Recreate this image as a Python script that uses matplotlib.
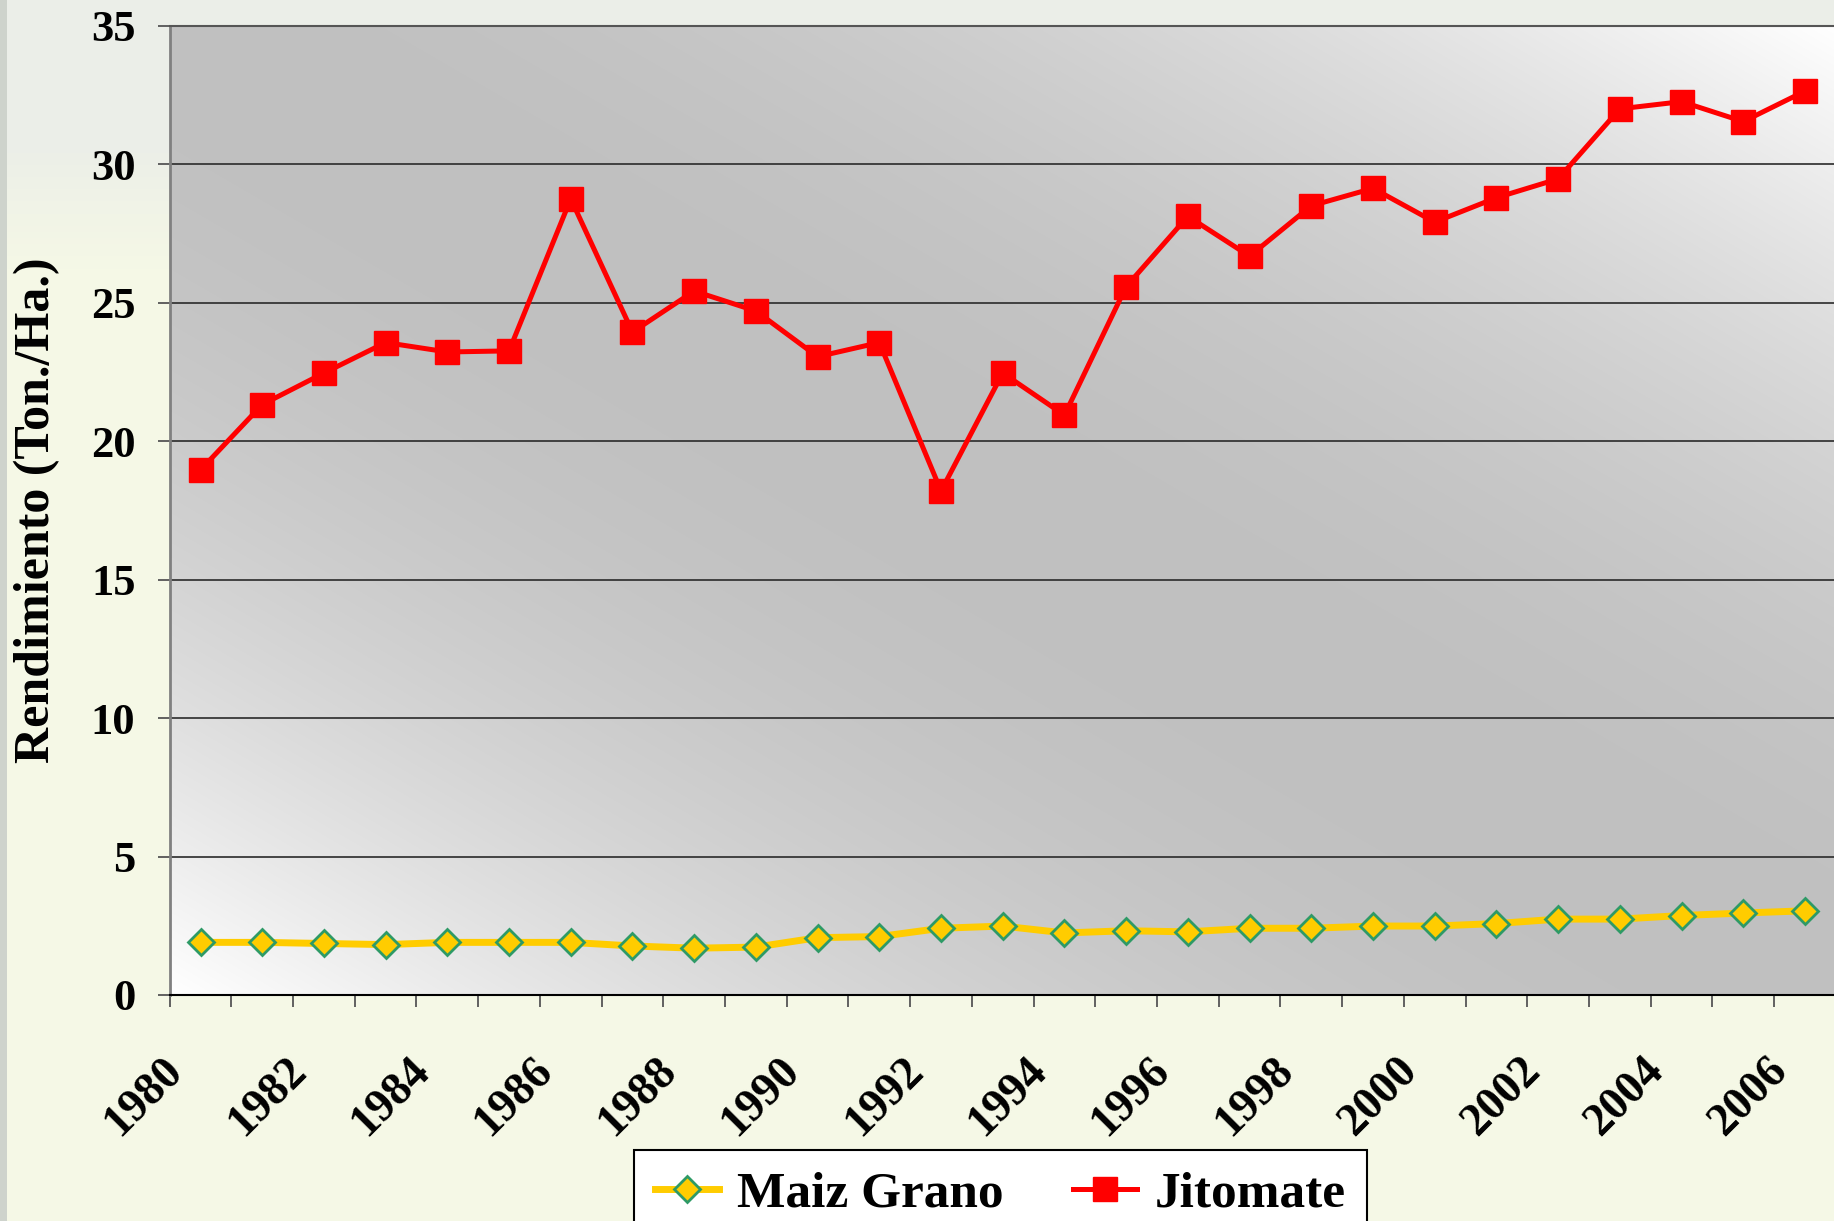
import numpy as np
import matplotlib
matplotlib.use("Agg")
import matplotlib.pyplot as plt
import matplotlib.transforms as mtrans

# Datos (Ton./Ha.)
years = list(range(1980, 2007))
maiz_grano = [1.90, 1.90, 1.86, 1.82, 1.90, 1.90, 1.90, 1.77, 1.69, 1.73,
              2.07, 2.11, 2.41, 2.49, 2.24, 2.32, 2.28, 2.41, 2.41, 2.49,
              2.49, 2.58, 2.74, 2.74, 2.87, 2.96, 3.04]
jitomate = [18.96, 21.32, 22.46, 23.56, 23.22, 23.26, 28.75, 23.94, 25.42, 24.70,
            23.05, 23.56, 18.20, 22.46, 20.94, 25.58, 28.12, 26.68, 28.50, 29.13,
            27.91, 28.79, 29.47, 32.00, 32.26, 31.54, 32.64]
y_ticks = [0, 5, 10, 15, 20, 25, 30, 35]

plt.rcParams["font.family"] = ["Liberation Serif", "DejaVu Serif"]
plt.rcParams["font.weight"] = "bold"

fig = plt.figure(figsize=(18.34, 12.21), dpi=100, facecolor="#f5f8e5")

# fondo tipo pergamino (simplificado): gris claro arriba, amarillo palido abajo
bg = fig.add_axes([0, 0, 1, 1], zorder=-5)
bg.axis("off")
yy = np.linspace(0, 1, 200)[:, None]
w = np.clip((yy - 0.12) / 0.1, 0, 1)
top_c = np.array([0.925, 0.937, 0.910])
low_c = np.array([0.962, 0.973, 0.902])
img = (1 - w)[..., None] * top_c + w[..., None] * low_c
img = np.repeat(img, 1834, axis=1)
img[:, :7] = [0.81, 0.83, 0.80]
bg.imshow(img, extent=(0, 1, 0, 1), aspect="auto", origin="upper", interpolation="nearest")
bg.set_xlim(0, 1)
bg.set_ylim(0, 1)

ax = fig.add_axes([0.0925, 0.1851, 0.9085, 0.7938])

# degradado gris en diagonal dentro del area de trazado
u, v = np.meshgrid(np.linspace(0, 1, 400), np.linspace(0, 1, 300))
d = np.abs(u - v)
grad = (192 + 63 * d ** 2) / 255.0
rgb = np.dstack([grad, grad, grad])
ax.imshow(rgb, extent=(0, 1, 0, 1), transform=ax.transAxes, aspect="auto",
          origin="upper", zorder=0, interpolation="bilinear")

x = np.arange(len(years))
ax.plot(x, maiz_grano, color="#ffcc00", lw=5, marker="D", ms=13,
        mfc="#ffcc00", mec="#2e9a66", mew=2, label="Maiz Grano", zorder=3)
ax.plot(x, jitomate, color="#ff0000", lw=3.6, marker="s", ms=17,
        mfc="#ff0000", mec="#ff0000", label="Jitomate", zorder=4)

ax.set_xlim(-0.5, len(years) - 0.5)
ax.set_ylim(0, 35)
ax.set_yticks(y_ticks)
ax.set_yticklabels([str(t) for t in y_ticks])
ax.yaxis.grid(True, color="#2a2a2a", lw=1.2)

ax.spines["right"].set_visible(False)
ax.spines["top"].set_color("#555555")
ax.spines["top"].set_linewidth(1.5)
ax.spines["left"].set_color("#808080")
ax.spines["left"].set_linewidth(2)
ax.spines["bottom"].set_color("black")
ax.spines["bottom"].set_linewidth(1.5)

# ticks de categoria en los bordes, etiquetas en el centro
ax.set_xticks(np.arange(-0.5, len(years), 1))
ax.set_xticklabels([])
ax.set_xticks(x[::2], minor=True)
ax.set_xticklabels([str(y) for y in years[::2]], minor=True)
ax.tick_params(axis="x", which="major", length=8.6, width=1.3, color="#555555")
ax.tick_params(axis="x", which="minor", length=0, pad=50, labelsize=33)
ax.tick_params(axis="y", length=8.6, width=1.3, color="#555555", pad=16, labelsize=32)

off = mtrans.ScaledTranslation(-0.24, 0, fig.dpi_scale_trans)
for lab in ax.xaxis.get_minorticklabels():
    lab.set_rotation(45)
    lab.set_ha("right")
    lab.set_va("center")
    lab.set_rotation_mode("anchor")
    lab.set_fontweight("bold")
    lab.set_transform(lab.get_transform() + off)
for lab in ax.get_yticklabels():
    lab.set_fontweight("bold")

ax.set_ylabel("Rendimiento (Ton./Ha.)", fontsize=36, fontweight="bold")
ax.yaxis.set_label_coords(-0.066, 0.5)

leg = fig.legend(loc="upper center", bbox_to_anchor=(0.5455, 0.0581), ncol=2,
                 prop={"size": 37, "weight": "bold"}, frameon=True, fancybox=False,
                 edgecolor="black", facecolor="white", framealpha=1, borderaxespad=0,
                 handlelength=1.25, handletextpad=0.35, columnspacing=1.35, borderpad=0.4)
leg.get_frame().set_linewidth(1.5)

plt.savefig("out.png", dpi=100, facecolor=fig.get_facecolor())
